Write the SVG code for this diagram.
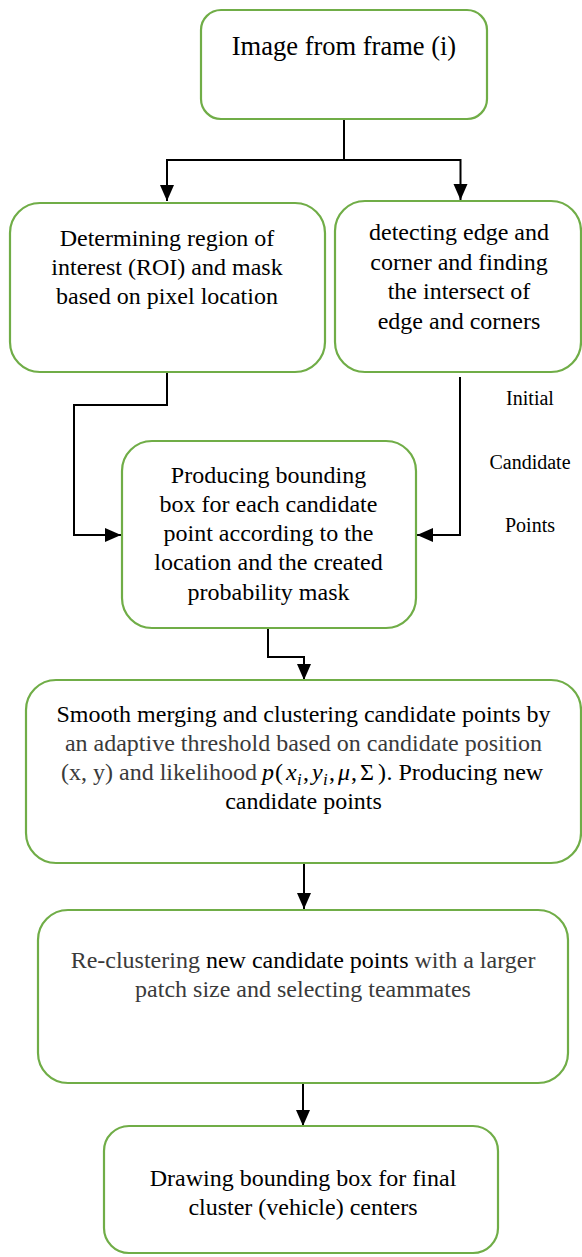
<svg xmlns="http://www.w3.org/2000/svg" width="582" height="1257" viewBox="0 0 582 1257">
<style>
.box{fill:#ffffff;stroke:#70AD47;stroke-width:2.2}
.t{font-size:24px;fill:#000000;text-anchor:middle}
.g{fill:#3a3a3a}
.m{font-style:italic}
.lbl{font-size:20px;fill:#000000;text-anchor:middle}
.c{fill:none;stroke:#000000;stroke-width:2}
</style>
<defs>
<marker id="arr" viewBox="0 0 16 16" refX="16" refY="8" markerWidth="16" markerHeight="16" markerUnits="userSpaceOnUse" orient="auto">
<path d="M0,1 L16,8 L0,15 z" fill="#000000"/>
</marker>
</defs>
<rect width="582" height="1257" fill="#ffffff"/>
<g id="connectors">
<path class="c" d="M344,119 V160 H167 V201" marker-end="url(#arr)"/>
<path class="c" d="M344,160 H460.5 V200" marker-end="url(#arr)"/>
<path class="c" d="M167,372 V405 H74 V535 H121" marker-end="url(#arr)"/>
<path class="c" d="M460,377 V535 H417" marker-end="url(#arr)"/>
<path class="c" d="M268,628 V657 H304 V680" marker-end="url(#arr)"/>
<path class="c" d="M304,863 V909" marker-end="url(#arr)"/>
<path class="c" d="M303,1083 V1126" marker-end="url(#arr)"/>
</g>
<g font-family="'Liberation Serif', 'DejaVu Serif', serif">
<g id="n1">
<rect class="box" x="201" y="10" width="286" height="109" rx="20"/>
<text class="t" x="344" y="55" style="font-size:26.5px">Image from frame (i)</text>
</g>
<g id="n2">
<rect class="box" x="10" y="203" width="315" height="169" rx="30"/>
<text class="t" x="167" y="246">Determining region of</text>
<text class="t" x="167" y="275">interest (ROI) and mask</text>
<text class="t" x="167" y="304">based on pixel location</text>
</g>
<g id="n3">
<rect class="box" x="335" y="201" width="246" height="171" rx="30"/>
<text class="t" x="459" y="240">detecting edge and</text>
<text class="t" x="459" y="269.5">corner and finding</text>
<text class="t" x="459" y="299">the intersect of</text>
<text class="t" x="459" y="328.5">edge and corners</text>
</g>
<g id="label">
<text class="lbl" x="530" y="405">Initial</text>
<text class="lbl" x="530" y="469">Candidate</text>
<text class="lbl" x="530" y="532">Points</text>
</g>
<g id="n4">
<rect class="box" x="122" y="441" width="294" height="187" rx="30"/>
<text class="t" x="268.5" y="483">Producing bounding</text>
<text class="t" x="268.5" y="512">box for each candidate</text>
<text class="t" x="268.5" y="541">point according to the</text>
<text class="t" x="268.5" y="570">location and the created</text>
<text class="t" x="268.5" y="599.5">probability mask</text>
</g>
<g id="n5">
<rect class="box" x="26" y="680" width="555" height="183" rx="30"/>
<text class="t" x="303.5" y="721.5">Smooth merging and clustering candidate points by</text>
<text class="t g" x="303.5" y="750.5">an adaptive threshold based on candidate position</text>
<text class="t g" x="61" y="780" style="text-anchor:start">(x, y) and likelihood</text>
<text class="t" y="780" style="text-anchor:start"><tspan class="m" x="262">p</tspan><tspan x="275">(</tspan><tspan class="m" x="286">x</tspan><tspan class="m" x="297" y="785" style="font-size:17px">i</tspan><tspan x="303" y="780">,</tspan><tspan class="m" x="312">y</tspan><tspan class="m" x="323" y="785" style="font-size:17px">i</tspan><tspan x="329" y="780">,</tspan><tspan class="m" x="338">μ</tspan><tspan x="351">,</tspan><tspan x="360">Σ</tspan><tspan x="378">)</tspan><tspan x="386.5">. Producing new</tspan></text>
<text class="t" x="303.5" y="808.5">candidate points</text>
</g>
<g id="n6">
<rect class="box" x="38" y="910" width="530" height="173" rx="30"/>
<text class="t" x="303" y="968"><tspan class="g">Re-clustering </tspan>new candidate points<tspan class="g"> with a larger</tspan></text>
<text class="t g" x="303" y="997">patch size and selecting teammates</text>
</g>
<g id="n7">
<rect class="box" x="104" y="1126" width="394" height="127" rx="25"/>
<text class="t" x="303" y="1186">Drawing bounding box for final</text>
<text class="t" x="303" y="1214.5">cluster (vehicle) centers</text>
</g>
</g>
</svg>
